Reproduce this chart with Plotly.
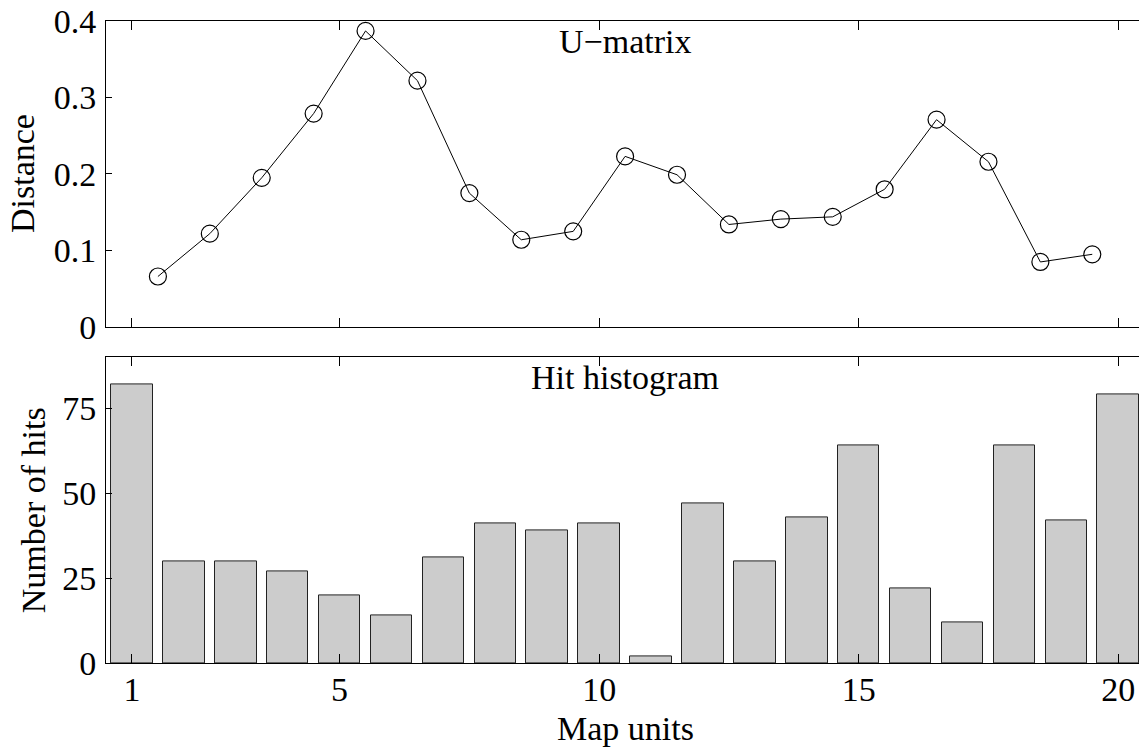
import plotly.graph_objects as go

# Data
umat_x = [i + 0.5 for i in range(1, 20)]
umat_y = [0.066, 0.122, 0.195, 0.279, 0.387, 0.322, 0.175, 0.114, 0.125, 0.223,
          0.199, 0.134, 0.141, 0.144, 0.180, 0.271, 0.216, 0.085, 0.095]
units = list(range(1, 21))
hits = [82, 30, 30, 27, 20, 14, 31, 41, 39, 41, 2, 47, 30, 43, 64, 22, 12, 64, 42, 79]
x_ticks = [1, 5, 10, 15, 20]
top_ticks = [0, 0.1, 0.2, 0.3, 0.4]
top_tick_text = ["0", "0.1", "0.2", "0.3", "0.4"]
bot_ticks = [0, 25, 50, 75]

FONT = "Liberation Serif, Times New Roman, serif"
FS = 34

fig = go.Figure()
fig.add_trace(go.Scatter(x=umat_x, y=umat_y, mode="lines+markers",
                         line=dict(color="black", width=1),
                         marker=dict(symbol="circle-open", size=17, color="black",
                                     line=dict(width=1.2, color="black")),
                         xaxis="x", yaxis="y", showlegend=False))
fig.add_trace(go.Bar(x=units, y=hits, width=0.8,
                     marker=dict(color="#cccccc", line=dict(color="#222222", width=1)),
                     xaxis="x2", yaxis="y2", showlegend=False))

xcommon = dict(range=[0.5, 20.4], tickvals=x_ticks, ticks="inside", ticklen=9,
               tickcolor="black", tickwidth=1, showline=True, linecolor="black",
               linewidth=1, mirror="ticks", showgrid=False, zeroline=False,
               domain=[0, 1])
ycommon = dict(ticks="inside", ticklen=6, tickcolor="black", tickwidth=1,
               showline=True, linecolor="black", linewidth=1, mirror=False,
               showgrid=False, zeroline=False)

fig.update_layout(
    width=1139, height=747,
    margin=dict(l=106, r=0, t=21, b=84),
    paper_bgcolor="white", plot_bgcolor="white",
    font=dict(family=FONT, size=FS, color="black"),
    bargap=0,
    xaxis=dict(**xcommon, anchor="y", showticklabels=False),
    xaxis2=dict(**xcommon, anchor="y2", showticklabels=True,
                ticklabelstandoff=-4),
    yaxis=dict(**ycommon, anchor="x", domain=[0.5234, 1], range=[0, 0.4],
               tickvals=top_ticks, ticktext=top_tick_text, ticklabelstandoff=2),
    yaxis2=dict(**ycommon, anchor="x2", domain=[0, 0.476], range=[0, 90],
                tickvals=bot_ticks, ticklabelstandoff=2),
    yaxis3=dict(overlaying="y", side="right", anchor="x", range=[0, 0.4],
                tickvals=top_ticks, ticks="inside", ticklen=6, tickcolor="black",
                showticklabels=False, showline=False, showgrid=False, zeroline=False),
    yaxis4=dict(overlaying="y2", side="right", anchor="x2", range=[0, 90],
                tickvals=bot_ticks, ticks="inside", ticklen=6, tickcolor="black",
                showticklabels=False, showline=False, showgrid=False, zeroline=False),
)

ann = []
ann.append(dict(text="U\u2212matrix", x=10.5, xref="x", y=1, yref="y domain",
                xanchor="center", yanchor="top", yshift=0, showarrow=False,
                font=dict(family=FONT, size=FS)))
ann.append(dict(text="Hit histogram", x=10.5, xref="x2", y=1, yref="y2 domain",
                xanchor="center", yanchor="top", yshift=0, showarrow=False,
                font=dict(family=FONT, size=FS)))
ann.append(dict(text="Distance", x=(23 - 106) / 1033, xref="paper", y=0.5, yref="y domain",
                xanchor="center", yanchor="middle", textangle=-90, showarrow=False,
                font=dict(family=FONT, size=FS)))
ann.append(dict(text="Number of hits", x=(33 - 106) / 1033, xref="paper", y=0.5, yref="y2 domain",
                xanchor="center", yanchor="middle", textangle=-90, showarrow=False,
                font=dict(family=FONT, size=FS)))
ann.append(dict(text="Map units", x=10.5, xref="x2", y=-65 / 642, yref="paper",
                xanchor="center", yanchor="middle", showarrow=False,
                font=dict(family=FONT, size=FS)))
fig.update_layout(annotations=ann)

fig.write_html("out.html")
